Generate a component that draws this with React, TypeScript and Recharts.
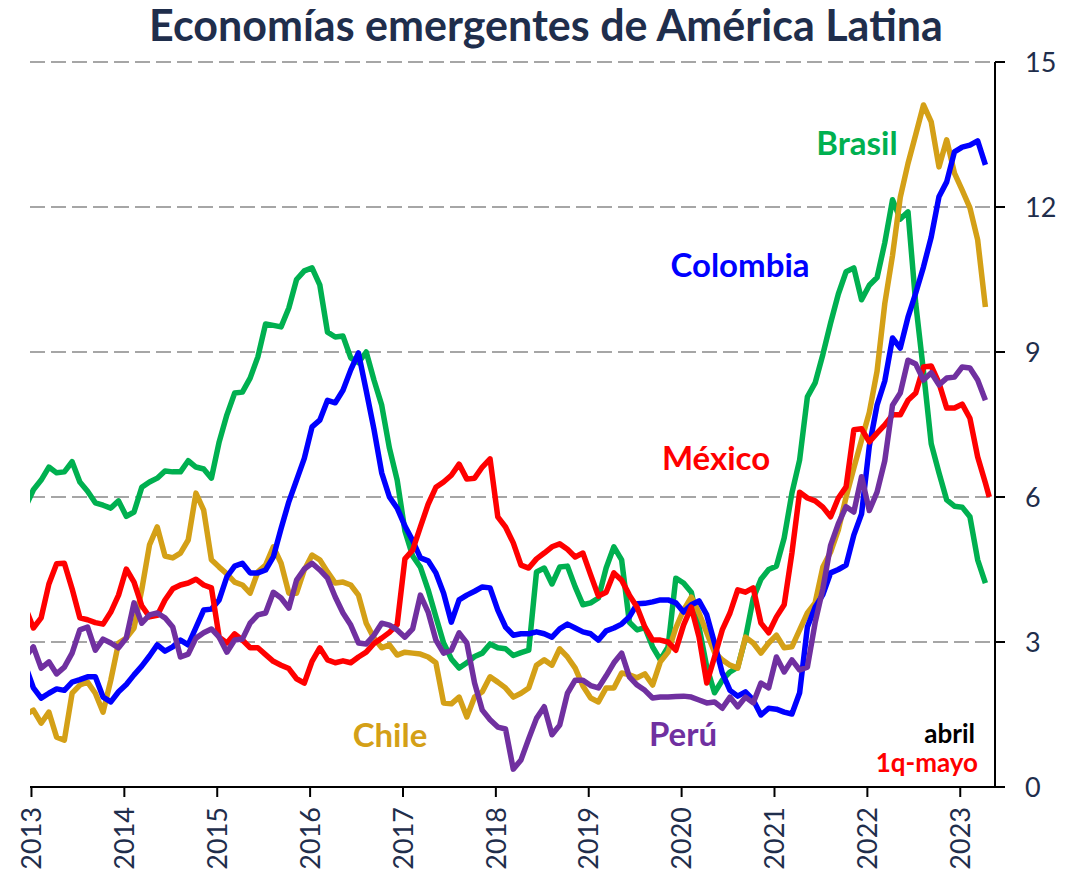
import React from 'react';
import { LineChart, Line, XAxis, YAxis, CartesianGrid } from 'recharts';

// Monthly 12-month inflation, Dec 2012 .. Apr 2023 (125 months)
const FIRST_MONTH_INDEX = -1; // Dec 2012, Jan 2013 = 0

const BRASIL = [
  5.8,
  6.15, 6.35, 6.62, 6.5, 6.52, 6.73, 6.31, 6.12, 5.88, 5.83, 5.77, 5.92,
  5.6, 5.69, 6.2, 6.31, 6.39, 6.54, 6.52, 6.52, 6.75, 6.62, 6.58, 6.39,
  7.14, 7.7, 8.15, 8.17, 8.46, 8.9, 9.58, 9.55, 9.52, 9.91, 10.5, 10.68,
  10.74, 10.39, 9.41, 9.31, 9.33, 8.88, 8.78, 9.0, 8.42, 7.9, 7.01, 6.35,
  5.3, 4.78, 4.55, 4.08, 3.52, 2.98, 2.65, 2.46, 2.57, 2.7, 2.77, 2.96,
  2.88, 2.86, 2.72, 2.78, 2.83, 4.45, 4.53, 4.2, 4.55, 4.57, 4.14, 3.77,
  3.81, 3.91, 4.53, 4.97, 4.7, 3.41, 3.25, 3.3, 2.9, 2.63, 2.9, 4.32,
  4.22, 4.03, 3.31, 2.48, 1.95, 2.21, 2.38, 2.48, 3.08, 3.9, 4.3, 4.5,
  4.57, 5.15, 6.08, 6.77, 8.07, 8.36, 8.95, 9.6, 10.2, 10.66, 10.74, 10.08,
  10.38, 10.54, 11.26, 12.15, 11.75, 11.9, 10.0, 8.6, 7.1, 6.5, 5.94, 5.81,
  5.79, 5.59, 4.7, 4.22,
];

const COLOMBIA = [
  2.5,
  2.05, 1.84, 1.94, 2.03, 2.0, 2.17, 2.22, 2.28, 2.28, 1.86, 1.76, 1.97,
  2.12, 2.32, 2.5, 2.71, 2.94, 2.81, 2.9, 3.04, 2.94, 3.3, 3.66, 3.68,
  3.87, 4.35, 4.57, 4.63, 4.43, 4.43, 4.49, 4.76, 5.35, 5.9, 6.35, 6.8,
  7.45, 7.59, 8.0, 7.95, 8.21, 8.63, 8.98, 8.2, 7.4, 6.5, 6.0, 5.77,
  5.4, 5.1, 4.74, 4.68, 4.43, 4.01, 3.41, 3.87, 3.97, 4.05, 4.14, 4.12,
  3.66, 3.31, 3.14, 3.17, 3.17, 3.21, 3.17, 3.1, 3.27, 3.37, 3.29, 3.21,
  3.17, 3.04, 3.23, 3.29, 3.37, 3.52, 3.79, 3.8, 3.83, 3.87, 3.87, 3.81,
  3.62, 3.77, 3.85, 3.56, 2.98, 2.36, 2.0, 1.88, 1.97, 1.8, 1.49, 1.63,
  1.61, 1.55, 1.51, 1.95, 3.31, 3.72, 3.98, 4.43, 4.5, 4.59, 5.21, 5.65,
  7.05, 7.9, 8.4, 9.29, 9.08, 9.72, 10.22, 10.76, 11.38, 12.21, 12.52, 13.14,
  13.24, 13.28, 13.37, 12.87,
];

const MEXICO = [
  3.7,
  3.29, 3.5, 4.2, 4.62, 4.63, 4.1, 3.5, 3.46, 3.4, 3.37, 3.62, 3.97,
  4.51, 4.24, 3.75, 3.52, 3.55, 3.87, 4.1, 4.18, 4.22, 4.3, 4.18, 4.12,
  3.1, 2.98, 3.17, 3.04, 2.88, 2.88, 2.74, 2.6, 2.52, 2.45, 2.24, 2.15,
  2.6, 2.88, 2.63, 2.57, 2.61, 2.57, 2.69, 2.79, 2.97, 3.08, 3.2, 3.36,
  4.72, 4.9, 5.38, 5.85, 6.2, 6.31, 6.45, 6.68, 6.37, 6.39, 6.62, 6.79,
  5.59, 5.38, 5.05, 4.59, 4.53, 4.72, 4.84, 4.97, 5.03, 4.92, 4.76, 4.84,
  4.39, 3.95, 4.03, 4.43, 4.28, 3.97, 3.72, 3.31, 3.04, 3.04, 3.0, 2.83,
  3.35, 3.72, 3.1, 2.15, 2.69, 3.25, 3.6, 4.08, 4.03, 4.12, 3.39, 3.19,
  3.52, 3.77, 4.84, 6.1, 5.98, 5.92, 5.79, 5.59, 5.98, 6.21, 7.39, 7.41,
  7.14, 7.32, 7.49, 7.7, 7.7, 8.0, 8.15, 8.69, 8.71, 8.36, 7.84, 7.84,
  7.92, 7.63, 6.83, 6.29,
];
const MEXICO_1Q_MAYO = 6.0;

const CHILE = [
  1.5,
  1.59, 1.32, 1.55, 1.03, 0.97, 1.94, 2.11, 2.17, 1.94, 1.55, 2.21, 2.98,
  3.08, 3.29, 4.08, 5.01, 5.38, 4.78, 4.74, 4.84, 5.11, 6.08, 5.73, 4.7,
  4.55, 4.41, 4.24, 4.18, 4.01, 4.45, 4.59, 4.97, 4.63, 4.01, 4.01, 4.49,
  4.8, 4.7, 4.45, 4.22, 4.24, 4.18, 3.97, 3.39, 3.08, 2.88, 2.94, 2.73,
  2.79, 2.77, 2.75, 2.69, 2.57, 1.74, 1.72, 1.86, 1.45, 1.86, 1.97, 2.28,
  2.17, 2.05, 1.86, 1.94, 2.05, 2.52, 2.63, 2.52, 2.86, 2.69, 2.46, 2.09,
  1.84, 1.76, 2.05, 2.05, 2.36, 2.32, 2.26, 2.34, 2.11, 2.59, 2.79, 3.29,
  3.66, 3.93, 3.6, 3.19, 2.79, 2.63, 2.52, 2.46, 3.1, 2.98, 2.77, 2.98,
  3.14, 2.88, 2.9, 3.25, 3.6, 3.81, 4.55, 4.86, 5.32, 6.0, 6.6, 7.18,
  7.75, 8.6, 10.0, 11.0, 12.2, 12.9, 13.5, 14.11, 13.76, 12.83, 13.39, 12.7,
  12.35, 11.98, 11.32, 9.93,
];

const PERU = [
  2.7,
  2.9, 2.46, 2.59, 2.34, 2.48, 2.77, 3.25, 3.31, 2.83, 3.06, 2.98, 2.88,
  3.08, 3.81, 3.39, 3.56, 3.6, 3.5, 3.31, 2.69, 2.75, 3.08, 3.19, 3.27,
  3.1, 2.79, 3.04, 3.06, 3.39, 3.56, 3.6, 4.03, 3.91, 3.7, 4.28, 4.51,
  4.63, 4.49, 4.32, 3.93, 3.6, 3.35, 2.98, 2.96, 3.14, 3.39, 3.35, 3.25,
  3.1, 3.27, 3.97, 3.62, 3.04, 2.77, 2.83, 3.19, 2.98, 2.15, 1.59, 1.39,
  1.24, 1.2, 0.37, 0.56, 1.0, 1.42, 1.66, 1.08, 1.28, 1.94, 2.21, 2.21,
  2.1, 2.05, 2.3, 2.57, 2.77, 2.28, 2.11, 2.0, 1.84, 1.86, 1.86, 1.87,
  1.88, 1.86, 1.8, 1.74, 1.76, 1.63, 1.86, 1.66, 1.86, 1.74, 2.15, 2.05,
  2.69, 2.38, 2.63, 2.42, 2.48, 3.4, 4.1, 5.0, 5.45, 5.8, 5.69, 6.42,
  5.72, 6.1, 6.75, 7.9, 8.15, 8.83, 8.75, 8.42, 8.57, 8.32, 8.46, 8.48,
  8.69, 8.67, 8.42, 8.0,
];

const YEAR_LABELS = ['2013', '2014', '2015', '2016', '2017', '2018', '2019', '2020', '2021', '2022', '2023'];
const Y_TICKS = [0, 3, 6, 9, 12, 15];

const NAVY = '#1f2e4c';
const COLORS = {
  brasil: '#00b050',
  colombia: '#0000ff',
  mexico: '#ff0000',
  chile: '#d4a017',
  peru: '#7030a0',
};

// year ticks sit a quarter month before the January observation
const yearTickPos = YEAR_LABELS.map((_, i) => i * 12 - 0.25);

const data: Record<string, number | undefined>[] = BRASIL.map((_, i) => ({
  t: FIRST_MONTH_INDEX + i,
  brasil: BRASIL[i],
  colombia: COLOMBIA[i],
  mexico: MEXICO[i],
  chile: CHILE[i],
  peru: PERU[i],
}));
data.push({ t: 123.5, mexico: MEXICO_1Q_MAYO });

const YearTick = (props: any) => {
  const { x, y, payload } = props;
  const idx = yearTickPos.indexOf(payload.value);
  return (
    <text
      transform={`translate(${x},${y}) rotate(-90)`}
      textAnchor="end"
      dy="0.36em"
      fill={NAVY}
      fontSize={27}
      fontFamily="Lato"
    >
      {YEAR_LABELS[idx]}
    </text>
  );
};

const labelStyle = { fontFamily: 'Lato', fontWeight: 700 } as const;
const LW = 5.5;

export default function App() {
  return (
    <div style={{ position: 'relative', width: 1071, height: 866 }}>
      <LineChart
        width={1071}
        height={866}
        data={data}
        margin={{ top: 54, right: 0, bottom: 0, left: 22 }}
      >
        <CartesianGrid vertical={false} stroke="#a6a6a6" strokeDasharray="15 6" strokeWidth={2} />
        <XAxis
          dataKey="t"
          type="number"
          domain={[-0.44, 124.24]}
          allowDataOverflow
          ticks={yearTickPos}
          interval={0}
          height={87}
          tickSize={10}
          tickMargin={10}
          axisLine={{ stroke: '#000', strokeWidth: 2 }}
          tickLine={{ stroke: '#000', strokeWidth: 2 }}
          tick={<YearTick />}
        />
        <YAxis
          orientation="right"
          domain={[0, 15]}
          ticks={Y_TICKS}
          interval={0}
          width={84}
          tickSize={10}
          tickMargin={20}
          axisLine={{ stroke: '#000', strokeWidth: 2 }}
          tickLine={{ stroke: '#000', strokeWidth: 2 }}
          tick={{ fill: NAVY, fontSize: 27, fontFamily: 'Lato' }}
        />
        <Line dataKey="brasil" type="linear" stroke={COLORS.brasil} strokeWidth={LW} dot={false} strokeLinejoin="round" isAnimationActive={false} />
        <Line dataKey="chile" type="linear" stroke={COLORS.chile} strokeWidth={LW} dot={false} strokeLinejoin="round" isAnimationActive={false} />
        <Line dataKey="colombia" type="linear" stroke={COLORS.colombia} strokeWidth={LW} dot={false} strokeLinejoin="round" isAnimationActive={false} />
        <Line dataKey="mexico" type="linear" stroke={COLORS.mexico} strokeWidth={LW} dot={false} strokeLinejoin="round" isAnimationActive={false} />
        <Line dataKey="peru" type="linear" stroke={COLORS.peru} strokeWidth={LW} dot={false} strokeLinejoin="round" isAnimationActive={false} />
      </LineChart>
      {/* text overlay in page coordinates */}
      <svg
        width={1079}
        height={874}
        style={{ position: 'absolute', left: -8, top: -8, pointerEvents: 'none', overflow: 'visible' }}
      >
        <text x={546} y={41} textAnchor="middle" fill={NAVY} fontSize={43} {...labelStyle}>
          Economías emergentes de América Latina
        </text>
        <text x={857} y={155} textAnchor="middle" fill={COLORS.brasil} fontSize={33} {...labelStyle}>Brasil</text>
        <text x={740} y={277} textAnchor="middle" fill={COLORS.colombia} fontSize={33} {...labelStyle}>Colombia</text>
        <text x={716} y={470} textAnchor="middle" fill={COLORS.mexico} fontSize={33} {...labelStyle}>México</text>
        <text x={390} y={747} textAnchor="middle" fill={COLORS.chile} fontSize={33} {...labelStyle}>Chile</text>
        <text x={683} y={746} textAnchor="middle" fill={COLORS.peru} fontSize={33} {...labelStyle}>Perú</text>
        <text x={975} y={743} textAnchor="end" fill="#000" fontSize={26} {...labelStyle}>abril</text>
        <text x={978} y={772} textAnchor="end" fill={COLORS.mexico} fontSize={26} {...labelStyle}>1q-mayo</text>
      </svg>
    </div>
  );
}
